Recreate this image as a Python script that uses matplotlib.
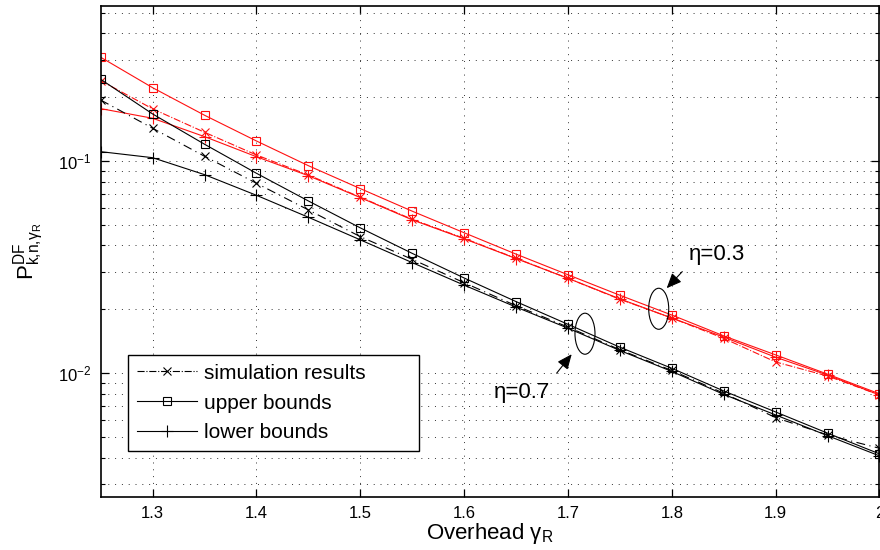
import numpy as np
import matplotlib
matplotlib.use("Agg")
import matplotlib.pyplot as plt
from matplotlib.lines import Line2D
from matplotlib.patches import Ellipse

plt.rcParams['font.family'] = ['Liberation Sans', 'DejaVu Sans']
plt.rcParams['mathtext.fontset'] = 'custom'
plt.rcParams['mathtext.rm'] = 'Liberation Sans'
plt.rcParams['mathtext.it'] = 'Liberation Sans:italic'
plt.rcParams['mathtext.bf'] = 'Liberation Sans:bold'

# ---- data ----
overhead = [1.25, 1.30, 1.35, 1.40, 1.45, 1.50, 1.55, 1.60,
            1.65, 1.70, 1.75, 1.80, 1.85, 1.90, 1.95, 2.00]

red_sim = [0.239, 0.176, 0.1365, 0.1067, 0.0859, 0.0675, 0.0531, 0.0432,
           0.0348, 0.0280, 0.0223, 0.0182, 0.0146, 0.0113, 0.0097, 0.0079]
red_upper = [0.308, 0.2214, 0.1642, 0.1242, 0.0950, 0.0741, 0.0580, 0.0459,
             0.0364, 0.0291, 0.0233, 0.0188, 0.0150, 0.0122, 0.0099, 0.0080]
red_lower = [0.1764, 0.1589, 0.1302, 0.1047, 0.0852, 0.0672, 0.0528, 0.0430,
             0.0347, 0.0280, 0.0224, 0.0182, 0.0148, 0.0119, 0.0098, 0.0079]

black_sim = [0.1937, 0.1426, 0.1052, 0.0785, 0.0588, 0.0440, 0.0344, 0.0267,
             0.0208, 0.0165, 0.0129, 0.0103, 0.00805, 0.00618, 0.00512, 0.00443]
black_upper = [0.2425, 0.1665, 0.1199, 0.0875, 0.0648, 0.0484, 0.0367, 0.0281,
               0.02175, 0.0170, 0.01326, 0.01055, 0.00825, 0.00657, 0.00522, 0.00417]
black_lower = [0.1106, 0.1036, 0.0862, 0.0689, 0.0543, 0.0425, 0.0332, 0.0260,
               0.0205, 0.0163, 0.0128, 0.0102, 0.00795, 0.00636, 0.00508, 0.00408]

xticks = [1.3, 1.4, 1.5, 1.6, 1.7, 1.8, 1.9, 2.0]
xtick_labels = ['1.3', '1.4', '1.5', '1.6', '1.7', '1.8', '1.9', '2']
legend_labels = ['simulation results', 'upper bounds', 'lower bounds']

# ---- figure ----
fig = plt.figure(figsize=(8.8, 5.5), dpi=100)
ax = fig.add_axes([0.1144, 0.0969, 0.8850, 0.8922])

red = '#ff1010'
lw = 0.8
# red (eta = 0.3)
ax.plot(overhead, red_sim, linestyle='-.', marker='x', color=red, lw=lw, ms=6, mew=0.8)
ax.plot(overhead, red_upper, linestyle='-', marker='s', color=red, lw=lw, ms=6.3, mew=0.8, mfc='none')
ax.plot(overhead, red_lower, linestyle='-', marker='+', color=red, lw=lw, ms=8, mew=0.8)
# black (eta = 0.7)
ax.plot(overhead, black_sim, linestyle=(0, (8, 4, 1, 4)), marker='x', color='k', lw=lw, ms=6, mew=0.8)
ax.plot(overhead, black_upper, linestyle='-', marker='s', color='k', lw=lw, ms=6.3, mew=0.8, mfc='none')
ax.plot(overhead, black_lower, linestyle='-', marker='+', color='k', lw=lw, ms=8, mew=0.8)

ax.set_yscale('log')
ax.set_xlim(1.25, 2.0)
ax.set_ylim(0.00262, 0.537)
ax.set_xticks(xticks)
ax.set_xticklabels(xtick_labels)
ax.yaxis.set_minor_formatter(matplotlib.ticker.NullFormatter())

grid_kw = dict(color='#333333', linestyle=(0, (1, 6)), linewidth=0.7)
ax.grid(True, which='major', axis='both', **grid_kw)
ax.grid(True, which='minor', axis='y', **grid_kw)

ax.tick_params(which='both', direction='in', top=True, right=True, labelsize=12, pad=7)
ax.tick_params(which='major', length=6, width=0.9)
ax.tick_params(which='minor', length=3, width=0.8)
for s in ax.spines.values():
    s.set_linewidth(1.2)

ax.set_xlabel(r'Overhead $\mathregular{\gamma_R}$', fontsize=16, labelpad=0)
ax.set_ylabel(r'$\mathregular{P^{DF}_{k{,}n{,}\gamma_R}}$', fontsize=16, labelpad=8)

# legend
handles = [
    Line2D([], [], color='k', linestyle='-.', marker='x', lw=lw, ms=6, mew=0.8),
    Line2D([], [], color='k', linestyle='-', marker='s', lw=lw, ms=6.3, mew=0.8, mfc='none'),
    Line2D([], [], color='k', linestyle='-', marker='+', lw=lw, ms=8, mew=0.8),
]
leg = ax.legend(handles, legend_labels, loc='lower left',
                bbox_to_anchor=(0.0354, 0.0937, 0.3737, 0.2),
                mode='expand', borderaxespad=0, fontsize=15, fancybox=False,
                framealpha=1, edgecolor='k', handlelength=2.9, handletextpad=0.35,
                labelspacing=0.52, borderpad=0.4)
leg.get_frame().set_linewidth(1.0)

# annotations
def to_axes(x, y):
    return ax.transAxes.inverted().transform(ax.transData.transform((x, y)))

for (ex, ey) in [(1.7874, 0.02012), (1.7164, 0.01535)]:
    c = to_axes(ex, ey)
    ax.add_patch(Ellipse(c, 0.0257, 0.0836, transform=ax.transAxes,
                         fill=False, edgecolor='k', lw=0.8, zorder=5))

arrow_kw = dict(arrowstyle='-|>,head_length=0.65,head_width=0.28', color='k',
                lw=0.8, mutation_scale=14, shrinkA=0, shrinkB=0)
ax.annotate('', xy=(1.7951, 0.02515), xytext=(1.8101, 0.03011), arrowprops=arrow_kw)
ax.annotate('', xy=(1.7036, 0.01229), xytext=(1.6891, 0.0100), arrowprops=arrow_kw)

ax.text(1.8432, 0.0361, 'η=0.3', fontsize=16, ha='center', va='center')
ax.text(1.6554, 0.00808, 'η=0.7', fontsize=16, ha='center', va='center')

fig.savefig('out.png', dpi=100)
